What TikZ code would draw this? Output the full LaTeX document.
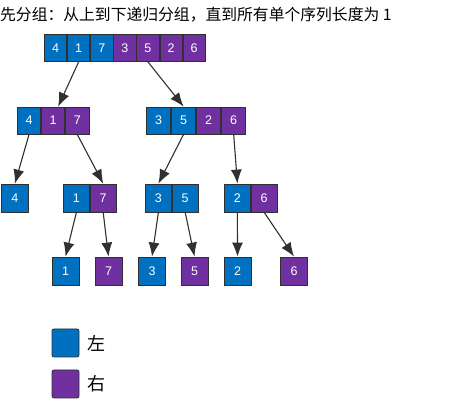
\documentclass[tikz,border=0pt]{standalone}
\usepackage{fontspec}
\setmainfont{Liberation Sans}
\newfontfamily\cjk{Noto Sans CJK SC}
\usetikzlibrary{arrows.meta,positioning}
\definecolor{leftblue}{HTML}{0070C0}
\definecolor{rightpurple}{HTML}{7030A0}
\definecolor{edgegray}{HTML}{303030}

\begin{document}
\begin{tikzpicture}[
  x=1pt,y=-1pt,
  node distance=0pt,
  cell/.style={draw=edgegray,line width=0.8pt,minimum height=27pt,inner sep=0pt,
    text=white,font=\fontsize{12.5}{14}\selectfont},
  lcell/.style={cell,fill=leftblue},
  rcell/.style={cell,fill=rightpurple},
  wa/.style={minimum width=22.3pt},
  wb/.style={minimum width=23.3pt},
  wc/.style={minimum width=24.25pt},
  wd/.style={minimum width=26pt,minimum height=28pt},
  we/.style={minimum width=27pt,minimum height=28pt},
  split/.style={draw=edgegray,line width=1.1pt,-{Latex[length=14pt,width=11pt]}},
  key/.style={font=\cjk\fontsize{18}{20}\selectfont,inner sep=0pt}
]
  \useasboundingbox (0,0) rectangle (474,411);

  \node[anchor=west,inner sep=0pt,font=\cjk\fontsize{15.8}{18}\selectfont] (title) at (0,15)
    {先分组：从上到下递归分组，直到所有单个序列长度为 1};

  % whole sequence
  \node[lcell,wa,anchor=west] (t4) at (44,48) {4};
  \node[lcell,wa,right=of t4] (t1) {1};
  \node[lcell,wa,right=of t1] (t7) {7};
  \node[rcell,wa,right=of t7] (t3) {3};
  \node[rcell,wa,right=of t3] (t5) {5};
  \node[rcell,wa,right=of t5] (t2) {2};
  \node[rcell,wa,right=of t2] (t6) {6};

  % first split
  \node[lcell,wb,anchor=west] (m4) at (17,120.5) {4};
  \node[rcell,wb,right=of m4] (m1) {1};
  \node[rcell,wb,right=of m1] (m7) {7};
  \node[lcell,wc,anchor=west] (m3) at (146,120.5) {3};
  \node[lcell,wc,right=of m3] (m5) {5};
  \node[rcell,wc,right=of m5] (m2) {2};
  \node[rcell,wc,right=of m2] (m6) {6};

  % second split
  \node[lcell,we,anchor=west] (p4) at (1,198) {4};
  \node[lcell,wd,anchor=west] (p1) at (63,198) {1};
  \node[rcell,wd,right=of p1] (p7) {7};
  \node[lcell,wd,anchor=west] (p3) at (145,198) {3};
  \node[lcell,wd,right=of p3] (p5) {5};
  \node[lcell,wd,anchor=west] (p2) at (224,198) {2};
  \node[rcell,wd,right=of p2] (p6) {6};

  % single elements
  \node[lcell,we] (q1) at (65.5,271) {1};
  \node[rcell,we] (q7) at (108.5,271) {7};
  \node[lcell,we] (q3) at (152,271) {3};
  \node[rcell,we] (q5) at (194.5,271) {5};
  \node[lcell,we] (q2) at (237.5,271) {2};
  \node[rcell,we] (q6) at (294,271) {6};

  \draw[split] (t1.south) -- ([xshift=5pt]m1.north);
  \draw[split] (t5.south) -- (m5.north);
  \draw[split] (m4.south) -- (p4.north);
  \draw[split] (m7.south) -- (p7.north);
  \draw[split] (m5.south) -- (p3.north);
  \draw[split] (m6.south) -- (p2.north);
  \draw[split] (p1.south) -- (q1.north);
  \draw[split] (p7.south) -- (q7.north);
  \draw[split] (p3.south) -- (q3.north);
  \draw[split] (p5.south) -- (q5.north);
  \draw[split] (p2.south) -- (q2.north);
  \draw[split] (p6.south) -- (q6.north);

  % legend
  \node[lcell,we,rounded corners=2pt] (keyl) at (65.5,343) {};
  \node[key,right=8pt of keyl] (keyltext) {左};
  \node[rcell,we,rounded corners=2pt] (keyr) at (65.5,384) {};
  \node[key,right=8pt of keyr] (keyrtext) {右};
\end{tikzpicture}
\end{document}
